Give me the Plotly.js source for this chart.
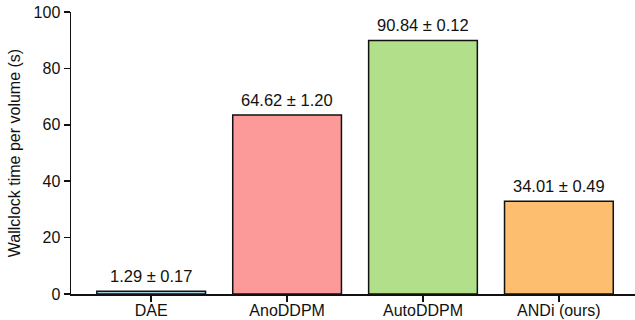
<!DOCTYPE html>
<html>
<head>
<meta charset="utf-8">
<script src="https://cdn.plot.ly/plotly-3.0.1.min.js"></script>
<style>html,body{margin:0;padding:0;background:#fff;}#chart{width:635px;height:320px;}</style>
</head>
<body>
<div id="chart"></div>
<script>
const methods = ["DAE", "AnoDDPM", "AutoDDPM", "ANDi (ours)"];
const barHeights = [1.0, 63.5, 89.9, 32.9];
const valueLabels = ["1.29 ± 0.17", "64.62 ± 1.20", "90.84 ± 0.12", "34.01 ± 0.49"];
const barColors = ["#a6cee3", "#fb9a99", "#b2df8a", "#fdbf6f"];
const yTicks = [0, 20, 40, 60, 80, 100];

const trace = {
  type: "bar",
  x: methods,
  y: barHeights,
  width: 0.8,
  marker: { color: barColors, line: { color: "#111", width: 1.5 } },
  cliponaxis: false,
  hoverinfo: "none"
};

const annotations = methods.map((m, i) => ({
  x: m, y: barHeights[i], xref: "x", yref: "y",
  text: valueLabels[i], showarrow: false,
  yanchor: "bottom", yshift: 4,
  font: { family: "Arial, Liberation Sans, sans-serif", size: 16.5, color: "#111" }
}));

const layout = {
  width: 635, height: 320,
  margin: { l: 71, r: 0, t: 12, b: 26 },
  paper_bgcolor: "#fff", plot_bgcolor: "#fff",
  font: { family: "Arial, Liberation Sans, sans-serif", size: 16, color: "#111" },
  showlegend: false,
  annotations: annotations,
  xaxis: {
    range: [-0.59, 3.56],
    showline: true, linecolor: "#111", linewidth: 1.5,
    ticks: "outside", ticklen: 6, tickwidth: 1.5, tickcolor: "#111",
    showgrid: false, zeroline: false,
    ticklabelstandoff: -5,
    tickfont: { size: 16 }
  },
  yaxis: {
    range: [0, 100],
    tickvals: yTicks,
    showline: true, linecolor: "#111", linewidth: 1.5,
    ticks: "outside", ticklen: 6, tickwidth: 1.5, tickcolor: "#111",
    showgrid: false, zeroline: false,
    tickfont: { size: 16 },
    title: { text: "Wallclock time per volume (s)", font: { size: 16 }, standoff: 9 }
  },
  bargap: 0.2
};

Plotly.newPlot("chart", [trace], layout, { displayModeBar: false, staticPlot: true });
</script>
</body>
</html>
